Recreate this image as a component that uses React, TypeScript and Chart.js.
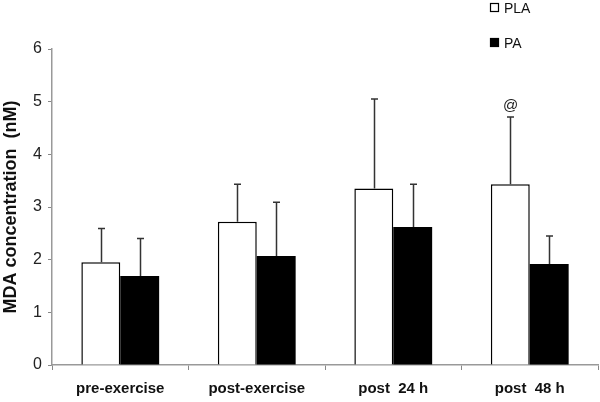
import React, { useEffect, useRef } from "react";
import { Chart, registerables } from "chart.js";

Chart.register(...registerables);

const categories = ["pre-exercise", "post-exercise", "post  24 h", "post  48 h"];
const plaValues = [1.95, 2.72, 3.35, 3.43];
const plaErrors = [0.64, 0.71, 1.7, 1.28];
const paValues = [1.69, 2.07, 2.62, 1.92];
const paErrors = [0.71, 1.02, 0.81, 0.53];
const plaMarks = ["", "", "", "@"];
const yMin = 0;
const yMax = 6;
const yStep = 1;
const seriesNames = ["PLA", "PA"];
const yTitle = "MDA concentration  (nM)";

const errorBarPlugin = {
  id: "errorBars",
  afterDatasetsDraw(chart: any) {
    const ctx = chart.ctx;
    const yScale = chart.scales.y;
    const errs = [plaErrors, paErrors];
    ctx.save();
    ctx.strokeStyle = "#333";
    ctx.lineWidth = 1.5;
    chart.data.datasets.forEach((ds: any, di: number) => {
      const meta = chart.getDatasetMeta(di);
      meta.data.forEach((bar: any, i: number) => {
        const v = ds.data[i];
        const top = yScale.getPixelForValue(v + errs[di][i]);
        const base = yScale.getPixelForValue(v);
        const x = Math.round(bar.x) + 0.5;
        ctx.beginPath();
        ctx.moveTo(x, base);
        ctx.lineTo(x, top);
        ctx.moveTo(x - 3.5, top);
        ctx.lineTo(x + 3.5, top);
        ctx.stroke();
        if (di === 0 && plaMarks[i]) {
          ctx.fillStyle = "#222";
          ctx.font = "15px 'Liberation Sans', Arial, sans-serif";
          ctx.textAlign = "center";
          ctx.textBaseline = "bottom";
          ctx.fillText(plaMarks[i], x, top - 4);
        }
      });
    });
    ctx.restore();
  },
  afterDraw(chart: any) {
    const ctx = chart.ctx;
    ctx.save();
    ctx.font = "14px 'Liberation Sans', Arial, sans-serif";
    ctx.textBaseline = "middle";
    ctx.textAlign = "left";
    const items = [
      { name: seriesNames[0], fill: "#fff", y: 8 },
      { name: seriesNames[1], fill: "#000", y: 43 },
    ];
    items.forEach((it) => {
      ctx.fillStyle = it.fill;
      ctx.fillRect(490.5, it.y - 4.5, 8, 8);
      ctx.strokeStyle = "#000";
      ctx.lineWidth = 1.2;
      ctx.strokeRect(490.5, it.y - 4.5, 8, 8);
      ctx.fillStyle = "#111";
      ctx.fillText(it.name, 504, it.y + 1);
    });
    ctx.restore();
  },
};

export default function App() {
  const ref = useRef<HTMLCanvasElement>(null);
  useEffect(() => {
    if (!ref.current) return;
    const chart = new Chart(ref.current, {
      type: "bar",
      data: {
        labels: categories,
        datasets: [
          {
            label: seriesNames[0],
            data: plaValues,
            backgroundColor: "#ffffff",
            borderColor: "#000000",
            borderWidth: 1.5,
            categoryPercentage: 0.57,
            barPercentage: 1,
          },
          {
            label: seriesNames[1],
            data: paValues,
            backgroundColor: "#000000",
            borderColor: "#000000",
            borderWidth: 0,
            categoryPercentage: 0.57,
            barPercentage: 1,
          },
        ],
      },
      options: {
        animation: false,
        responsive: false,
        maintainAspectRatio: false,
        layout: { padding: { top: 49, right: 2, left: 0, bottom: 0 } },
        plugins: {
          legend: { display: false },
          tooltip: { enabled: false },
        },
        scales: {
          x: {
            grid: {
              display: true,
              drawOnChartArea: false,
              drawTicks: true,
              tickLength: 5,
              color: "#888",
              offset: true,
            },
            border: { display: true, color: "#999", width: 1.5 },
            ticks: {
              color: "#111",
              padding: 10,
              font: { family: "'Liberation Sans', Arial, sans-serif", size: 15, weight: "bold" },
              maxRotation: 0,
            },
            afterFit(scale: any) {
              scale.height = 37;
            },
          },
          y: {
            min: yMin,
            max: yMax,
            grid: {
              display: true,
              drawOnChartArea: false,
              drawTicks: true,
              tickLength: 4,
              color: "#888",
            },
            border: { display: true, color: "#999", width: 1.5 },
            ticks: {
              stepSize: yStep,
              color: "#222",
              padding: 6,
              font: { family: "'Liberation Sans', Arial, sans-serif", size: 16 },
            },
            title: {
              display: true,
              text: yTitle,
              color: "#111",
              padding: { top: 0, bottom: 9 },
              font: { family: "'Liberation Sans', Arial, sans-serif", size: 18, weight: "bold" },
            },
            afterFit(scale: any) {
              scale.width = 52;
            },
          },
        },
      },
      plugins: [errorBarPlugin],
    });
    return () => chart.destroy();
  }, []);
  return (
    <div style={{ position: "fixed", left: 0, top: 0, width: 600, height: 402, background: "#fff" }}>
      <canvas ref={ref} width={600} height={402} style={{ display: "block" }} />
    </div>
  );
}
